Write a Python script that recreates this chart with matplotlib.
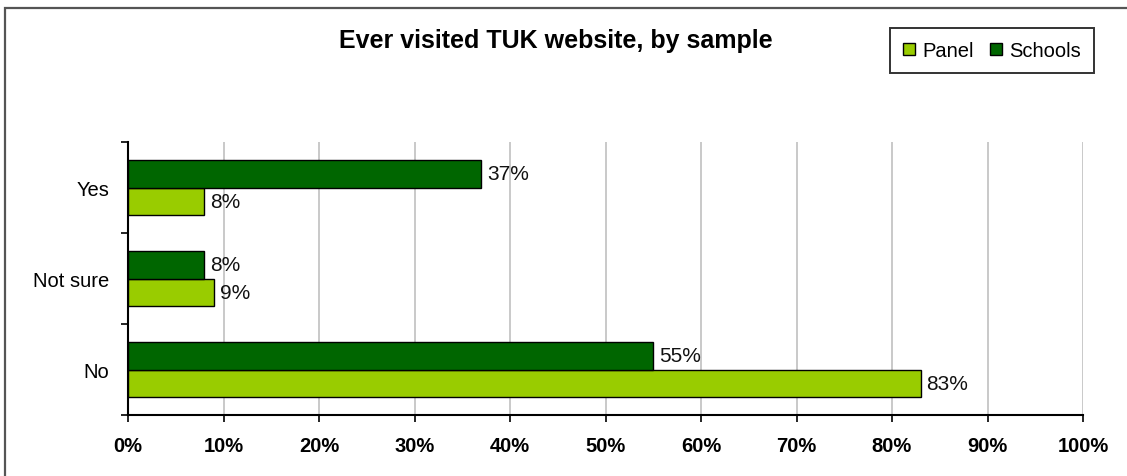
import matplotlib
matplotlib.use("Agg")
import matplotlib.pyplot as plt
from matplotlib.patches import Rectangle, Patch

categories = ["No", "Not sure", "Yes"]
panel = [83, 9, 8]
schools = [55, 8, 37]
xticks = [0, 10, 20, 30, 40, 50, 60, 70, 80, 90, 100]
title = "Ever visited TUK website, by sample"

W, H = 1127, 477
fig = plt.figure(figsize=(W / 100, H / 100), dpi=100)
fig.patch.set_facecolor("white")
plt.rcParams["font.family"] = ["Liberation Sans", "DejaVu Sans"]

# outer frame
fig.patches.append(Rectangle((5 / W, -0.2), 1.5, (H - 9) / H + 0.2,
                             transform=fig.transFigure, fill=False,
                             edgecolor="#555555", linewidth=1.6))

l, r, t, b = 128, 1083, 143, 416
ax = fig.add_axes([l / W, (H - b) / H, (r - l) / W, (b - t) / H])

pos = list(range(len(categories)))
h = 0.3
ax.barh([p - h / 2 for p in pos], panel, height=h, color="#99CC00",
        edgecolor="black", linewidth=1, label="Panel", zorder=3)
ax.barh([p + h / 2 for p in pos], schools, height=h, color="#006600",
        edgecolor="black", linewidth=1, label="Schools", zorder=3)

for p, v in zip(pos, panel):
    ax.annotate(f"{v}%", (v, p - h / 2), xytext=(4, 0), textcoords="offset points",
                va="center", ha="left", fontsize=15, color="#111111")
for p, v in zip(pos, schools):
    ax.annotate(f"{v}%", (v, p + h / 2), xytext=(4, 0), textcoords="offset points",
                va="center", ha="left", fontsize=15, color="#111111")

ax.set_xlim(0, 100)
ax.set_ylim(-0.5, 2.5)
ax.set_xticks(xticks)
ax.set_xticklabels([f"{x}%" for x in xticks], fontweight="bold", fontsize=14.5)
ax.set_yticks([-0.5, 0.5, 1.5, 2.5])
ax.set_yticklabels([])
ax.set_yticks(pos, minor=True)
ax.set_yticklabels(categories, minor=True, fontsize=14.5)
ax.tick_params(axis="y", which="minor", length=0, pad=13.5)
ax.tick_params(axis="y", which="major", length=5, width=1.2, color="black")
ax.tick_params(axis="x", length=5, width=1.2, pad=10)

ax.grid(axis="x", color="#c0c0c0", linewidth=1.2, zorder=0)
for s in ["top", "right"]:
    ax.spines[s].set_visible(False)
for s in ["left", "bottom"]:
    ax.spines[s].set_linewidth(1.5)
ax.set_facecolor("white")

fig.text(556 / W, (H - 41) / H, title, ha="center", va="center",
         fontsize=18, fontweight="bold")

handles = [Patch(facecolor="#99CC00", edgecolor="black", label="Panel"),
           Patch(facecolor="#006600", edgecolor="black", label="Schools")]
leg = fig.legend(handles=handles, loc="upper right", ncol=2,
                 bbox_to_anchor=(1094 / W, (H - 29) / H),
                 frameon=True, fancybox=False, fontsize=14.5,
                 handlelength=0.6, handleheight=0.6, handletextpad=0.35,
                 columnspacing=0.8, borderpad=0.65, borderaxespad=0)
leg.get_frame().set_edgecolor("black")
leg.get_frame().set_linewidth(1.4)

fig.savefig("out.png", dpi=100, facecolor="white")
